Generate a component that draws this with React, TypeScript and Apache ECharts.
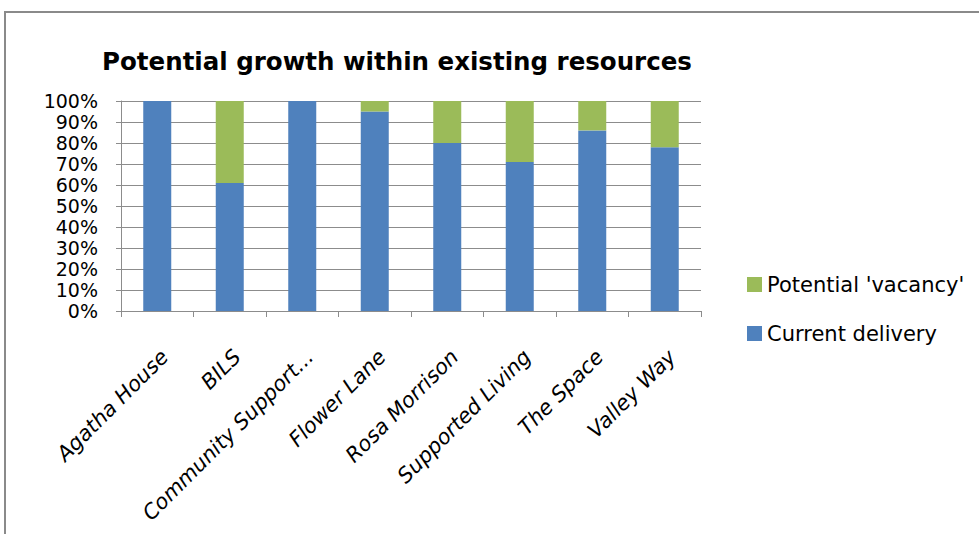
import React, { useEffect, useRef } from "react";
import * as echarts from "echarts";

const categories = [
  "Agatha House",
  "BILS",
  "Community Support...",
  "Flower Lane",
  "Rosa Morrison",
  "Supported Living",
  "The Space",
  "Valley Way",
];
const currentDelivery = [100, 61, 100, 95, 80, 71, 86, 78];
const potentialVacancy = [0, 39, 0, 5, 20, 29, 14, 22];
const seriesNames = ["Current delivery", "Potential 'vacancy'"];
const title = "Potential growth within existing resources";

export default function App() {
  const ref = useRef<HTMLDivElement>(null);
  useEffect(() => {
    if (!ref.current) return;
    const chart = echarts.init(ref.current, undefined, { renderer: "svg" });
    const labelFont = "'DejaVu Sans', sans-serif";
    chart.setOption({
      animation: false,
      backgroundColor: "#ffffff",
      title: {
        text: title,
        left: 392,
        top: 44,
        textAlign: "center",
        textStyle: {
          fontFamily: "'DejaVu Sans', sans-serif",
          fontWeight: "bold",
          fontSize: 24.5,
          lineHeight: 24,
          color: "#000",
        },
      },
      graphic: [
        {
          type: "rect",
          shape: { x: 5, y: 12, width: 1200, height: 800 },
          style: { fill: "none", stroke: "#8a8a8a", lineWidth: 2 },
          silent: true,
        },
      ],
      legend: {
        orient: "vertical",
        left: 742,
        top: 269,
        itemWidth: 15,
        itemHeight: 15,
        itemGap: 28,
        icon: "rect",
        data: [seriesNames[1], seriesNames[0]],
        textStyle: { fontFamily: labelFont, fontSize: 21, lineHeight: 21, color: "#000" },
      },
      grid: { left: 121, top: 101, right: 278, bottom: 223 },
      xAxis: {
        type: "category",
        data: categories,
        axisLine: { show: true, lineStyle: { color: "#8c8c8c", width: 1 } },
        axisTick: { show: true, alignWithLabel: false, length: 6, lineStyle: { color: "#8c8c8c" } },
        axisLabel: {
          rotate: 45,
          interval: 0,
          margin: 35,
          verticalAlign: "top",
          fontFamily: labelFont,
          fontStyle: "italic",
          fontSize: 21,
          color: "#000",
        },
      },
      yAxis: {
        type: "value",
        min: 0,
        max: 100,
        interval: 10,
        axisLine: { show: true, lineStyle: { color: "#8c8c8c", width: 1 } },
        axisTick: { show: true, length: 5, lineStyle: { color: "#8c8c8c" } },
        splitLine: { show: true, lineStyle: { color: "#8c8c8c", width: 1 } },
        axisLabel: {
          formatter: "{value}%",
          margin: 23,
          fontFamily: labelFont,
          fontSize: 19,
          lineHeight: 19,
          color: "#000",
        },
      },
      series: [
        {
          name: seriesNames[0],
          type: "bar",
          stack: "total",
          data: currentDelivery,
          barWidth: 28,
          itemStyle: { color: "#4F81BD" },
        },
        {
          name: seriesNames[1],
          type: "bar",
          stack: "total",
          data: potentialVacancy,
          barWidth: 28,
          itemStyle: { color: "#9BBB59" },
        },
      ],
    });
    return () => chart.dispose();
  }, []);
  return (
    <div
      ref={ref}
      style={{ position: "fixed", left: 0, top: 0, width: 979, height: 534 }}
    />
  );
}
